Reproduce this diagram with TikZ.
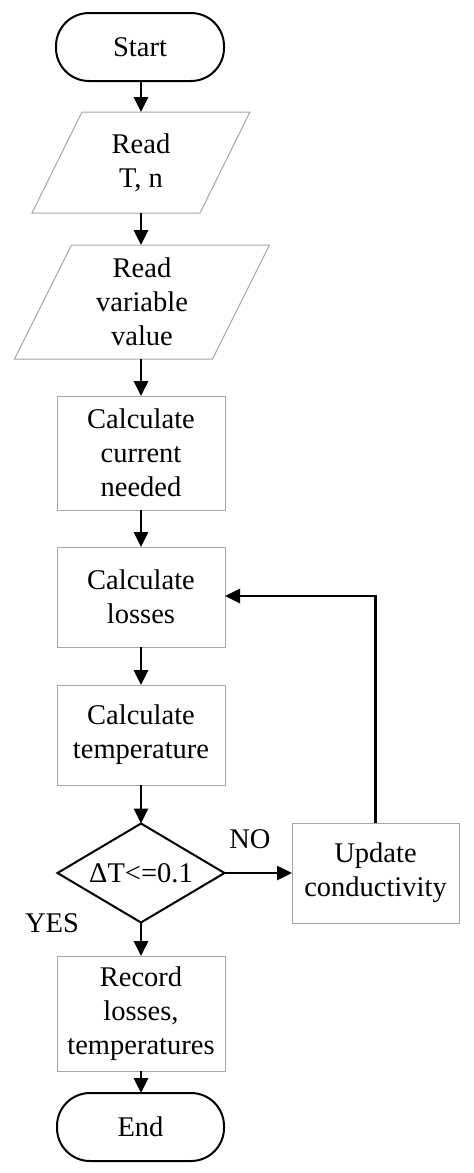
\documentclass[tikz,border=0pt]{standalone}
\usepackage{fontspec}
\setmainfont{Liberation Serif}
\usetikzlibrary{arrows.meta}
\definecolor{boxgray}{HTML}{A6A6A6}
\begin{document}
\begin{tikzpicture}[x=1pt,y=-1pt,
  every node/.style={font=\fontsize{28.5}{34}\selectfont, align=center, inner sep=0pt, outer sep=0pt},
  term/.style={draw=black, line width=2pt, rounded corners=33pt, minimum width=168pt, minimum height=68pt},
  procbox/.style={draw=boxgray, line width=1pt},
  flow/.style={draw=black, line width=2.6pt, -{Triangle[width=14pt,length=15pt]}},
  para/.style={draw=boxgray, line width=1pt}
]
\useasboundingbox (0,0) rectangle (474,1173);

\node[term] (start) at (140,47) {Start};

\node[minimum width=168pt, minimum height=101pt] (rd1) at (141,162.5) {Read\\T, n};
\draw[para] ([xshift=25pt]rd1.north west) -- ([xshift=25pt]rd1.north east)
  -- ([xshift=-25pt]rd1.south east) -- ([xshift=-25pt]rd1.south west) -- cycle;

\node[minimum width=198pt, minimum height=114pt] (rd2) at (142,302) {Read\\variable\\value};
\draw[para] ([xshift=28.5pt]rd2.north west) -- ([xshift=28.5pt]rd2.north east)
  -- ([xshift=-28.5pt]rd2.south east) -- ([xshift=-28.5pt]rd2.south west) -- cycle;

\node[procbox, minimum width=168pt, minimum height=114pt] (calc1) at (141,453) {Calculate\\current\\needed};
\node[procbox, minimum width=168pt, minimum height=100pt] (calc2) at (141,597) {Calculate\\losses};
\node[procbox, minimum width=168pt, minimum height=100pt] (calc3) at (141,735) {Calculate\\temperature};

\node[minimum width=167pt, minimum height=99pt] (dec) at (141,873) {ΔT<=0.1};
\draw[black, line width=2pt, line join=miter] (dec.north) -- (dec.east) -- (dec.south) -- (dec.west) -- cycle;

\node[procbox, minimum width=167pt, minimum height=100pt] (upd) at (375.5,873) {Update\\conductivity};

\node[procbox, minimum width=168pt, minimum height=115pt] (rec) at (141,1013.5) {Record\\losses,\\temperatures};

\node[term, minimum width=167pt] (end) at (140.5,1127) {End};

\node (no) at (250,839) {NO};
\node (yes) at (52,923) {YES};

\draw[flow] (start.south -| rd1.north) -- (rd1.north);
\draw[flow] (rd1.south) -- (rd1.south |- rd2.north);
\draw[flow] (rd2.south -| calc1.north) -- (calc1.north);
\draw[flow] (calc1.south) -- (calc2.north);
\draw[flow] (calc2.south) -- (calc3.north);
\draw[flow] (calc3.south) -- (dec.north);
\draw[flow] (dec.east) -- (upd.west);
\draw[flow] (upd.north) |- ([yshift=1pt]calc2.east);
\draw[flow] (dec.south) -- (rec.north);
\draw[flow] (rec.south) -- (rec.south |- end.north);
\end{tikzpicture}
\end{document}
